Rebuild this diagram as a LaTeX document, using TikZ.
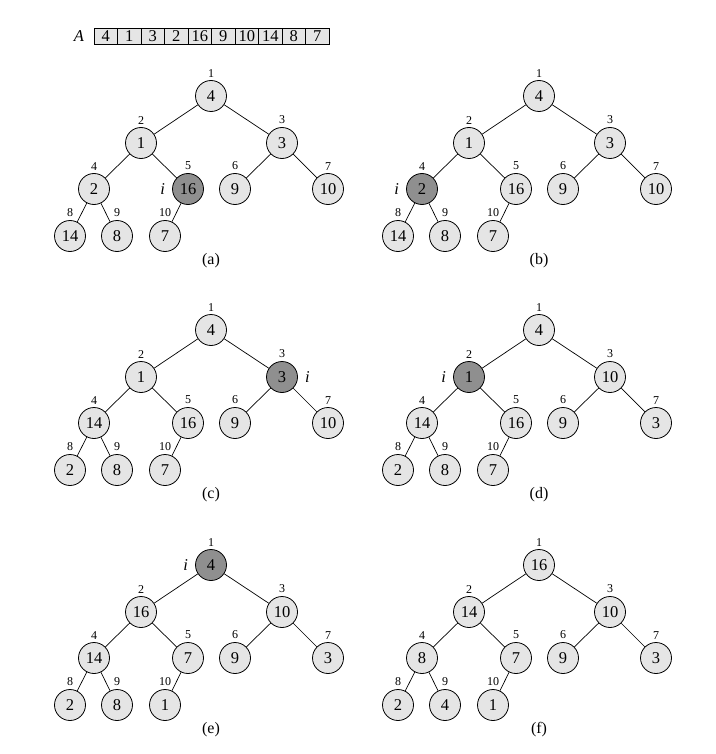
\documentclass[tikz,border=0pt]{standalone}
\usepackage{fontspec}
\setmainfont{Liberation Serif}
\usetikzlibrary{positioning}
\definecolor{lightfill}{HTML}{E5E5E5}
\definecolor{darkfill}{HTML}{8F8F8F}
\tikzset{
  hnode/.style={circle, draw, line width=0.8pt, fill=lightfill, minimum size=31pt, inner sep=0pt, font=\fontsize{16.5}{18}\selectfont},
  idx/.style={font=\fontsize{12}{13}\selectfont, inner sep=0pt},
  ilab/.style={font=\fontsize{16.5}{18}\selectfont\itshape, inner sep=0pt},
  hedge/.style={line width=0.7pt},
  cellbox/.style={rectangle, draw, line width=0.8pt, fill=lightfill, minimum width=23.5pt, minimum height=16pt, inner sep=0pt, font=\fontsize{16.5}{18}\selectfont},
  captext/.style={font=\fontsize{16}{18}\selectfont, inner sep=0pt}
}
% #1 x0, #2 y0, #3 prefix, #4 values, #5 dark index, #6 side of i, #7 caption
\newcommand\heaptree[7]{%
  \foreach \v [count=\k] in {#4} {
    \pgfmathsetmacro\dx{{0,-70,71,-117,-23,24,117,-141,-94,-46}[\k-1]}
    \pgfmathsetmacro\dy{{0,47,47,93,93,93,93,140,140,140}[\k-1]}
    \ifnum\k=#5\relax\def\fc{darkfill}\else\def\fc{lightfill}\fi
    \node[hnode, fill=\fc, label={[idx,label distance=2.8pt]above:\k}] (#3\k) at ({#1+(\dx)},{#2+(\dy)}) {\v};
  }
  \foreach \k in {2,...,10} {
    \pgfmathtruncatemacro\p{div(\k,2)}
    \draw[hedge] (#3\p) -- (#3\k);
  }
  \ifx\relax#6\relax\else
    \node[ilab, #6=7pt of #3#5] (#3i) {i};
  \fi
  \node[captext] (#3cap) at (#1,#2+165) {(#7)};
}
\begin{document}
\begin{tikzpicture}[x=1pt,y=-1pt]
\useasboundingbox (0,0) rectangle (715,754);
% array
\node[ilab] (Alab) at (79,36) {A};
\foreach \v [count=\k] in {4,1,3,2,16,9,10,14,8,7} {
  \node[cellbox] (A\k) at ({105.75+23.5*(\k-1)},36) {\v};
}
\heaptree{211}{96}{a}{4,1,3,2,16,9,10,14,8,7}{5}{left}{a}
\heaptree{539}{96}{b}{4,1,3,2,16,9,10,14,8,7}{4}{left}{b}
\heaptree{211}{330}{c}{4,1,3,14,16,9,10,2,8,7}{3}{right}{c}
\heaptree{539}{330}{d}{4,1,10,14,16,9,3,2,8,7}{2}{left}{d}
\heaptree{211}{565}{e}{4,16,10,14,7,9,3,2,8,1}{1}{left}{e}
\heaptree{539}{565}{f}{16,14,10,8,7,9,3,2,4,1}{0}{}{f}
\end{tikzpicture}
\end{document}
